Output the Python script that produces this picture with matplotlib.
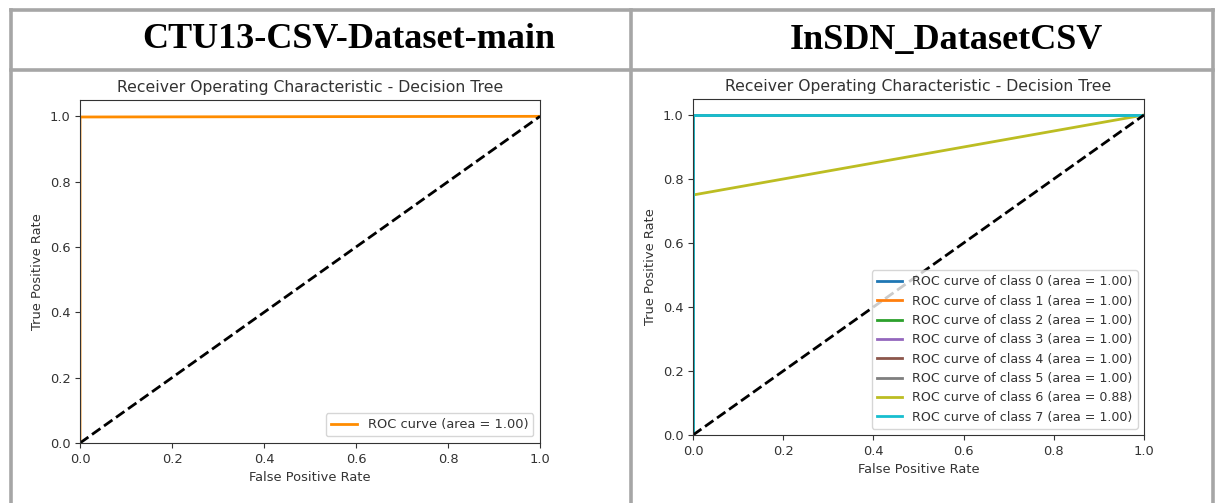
import matplotlib.pyplot as plt
from matplotlib.lines import Line2D

# headers of the two table cells
headers = ['CTU13-CSV-Dataset-main', 'InSDN_DatasetCSV']

# left panel: single ROC curve
ctu_fpr = [0.0, 0.0, 1.0]
ctu_tpr = [0.0, 0.998, 1.0]
ctu_auc = 1.00

# right panel: one ROC curve per class
class_ids = [0, 1, 2, 3, 4, 5, 6, 7]
class_fpr = [[0, 0, 1], [0, 0, 1], [0, 0, 1], [0, 0, 1],
             [0, 0, 1], [0, 0, 1], [0, 1], [0, 0, 1]]
class_tpr = [[0, 1, 1], [0, 1, 1], [0, 1, 1], [0, 1, 1],
             [0, 1, 1], [0, 1, 1], [0.75, 1], [0, 1, 1]]
class_auc = [1.00, 1.00, 1.00, 1.00, 1.00, 1.00, 0.88, 1.00]
class_colors = ['#1f77b4', '#ff7f0e', '#2ca02c', '#9467bd',
                '#8c564b', '#7f7f7f', '#bcbd22', '#17becf']

W, H = 1218, 503
fig = plt.figure(figsize=(W / 100, H / 100), dpi=100)
fig.patch.set_facecolor('white')


def px(x0, y0, x1, y1):
    # pixel box (top-left origin) -> figure fraction rect
    return [x0 / W, 1 - y1 / H, (x1 - x0) / W, (y1 - y0) / H]


# table borders
border = '#a6a6a6'
for (xa, ya, xb, yb) in [(10.5, 9.5, 1212.5, 9.5), (10.5, 69.5, 1212.5, 69.5),
                         (10.5, 9.5, 10.5, 503), (631.5, 9.5, 631.5, 503),
                         (1212.5, 9.5, 1212.5, 503)]:
    fig.add_artist(Line2D([xa / W, xb / W], [1 - ya / H, 1 - yb / H],
                          color=border, lw=2.6, solid_capstyle='projecting'))

for xc, txt in zip([349, 946], headers):
    fig.text(xc / W, 1 - 40 / H, txt, ha='center', va='center',
             family='Liberation Serif', weight='bold', fontsize=26)

fs = 9.4
tc = '#333333'

# left plot
ax1 = fig.add_axes(px(80, 100, 540, 443))
ax1.plot(ctu_fpr, ctu_tpr, color='darkorange', lw=2,
         label='ROC curve (area = %0.2f)' % ctu_auc)
ax1.plot([0, 1], [0, 1], color='black', lw=2, linestyle='--')
ax1.set_xlim(0.0, 1.0)
ax1.set_ylim(0.0, 1.05)
ax1.set_xlabel('False Positive Rate', fontsize=fs, color=tc)
ax1.set_ylabel('True Positive Rate', fontsize=fs, color=tc)
ax1.set_title('Receiver Operating Characteristic - Decision Tree',
              fontsize=fs * 1.2, color=tc)
ax1.legend(loc='lower right', fontsize=fs)

# right plot
ax2 = fig.add_axes(px(693, 99, 1144, 435))
for i, c in enumerate(class_ids):
    ax2.plot(class_fpr[i], class_tpr[i], color=class_colors[i], lw=2,
             label='ROC curve of class {0} (area = {1:0.2f})'.format(c, class_auc[i]))
ax2.plot([0, 1], [0, 1], 'k--', lw=2)
ax2.set_xlim(0.0, 1.0)
ax2.set_ylim(0.0, 1.05)
ax2.set_xlabel('False Positive Rate', fontsize=fs, color=tc)
ax2.set_ylabel('True Positive Rate', fontsize=fs, color=tc)
ax2.set_title('Receiver Operating Characteristic - Decision Tree',
              fontsize=fs * 1.2, color=tc)
ax2.legend(loc='lower right', fontsize=fs * 0.97)

for ax in (ax1, ax2):
    ax.tick_params(labelsize=fs, length=3.5, labelcolor=tc, color=tc)
    for s in ax.spines.values():
        s.set_linewidth(0.8)
        s.set_color(tc)
    for t in ax.get_legend().get_texts():
        t.set_color(tc)

fig.savefig('out.png', dpi=100)
